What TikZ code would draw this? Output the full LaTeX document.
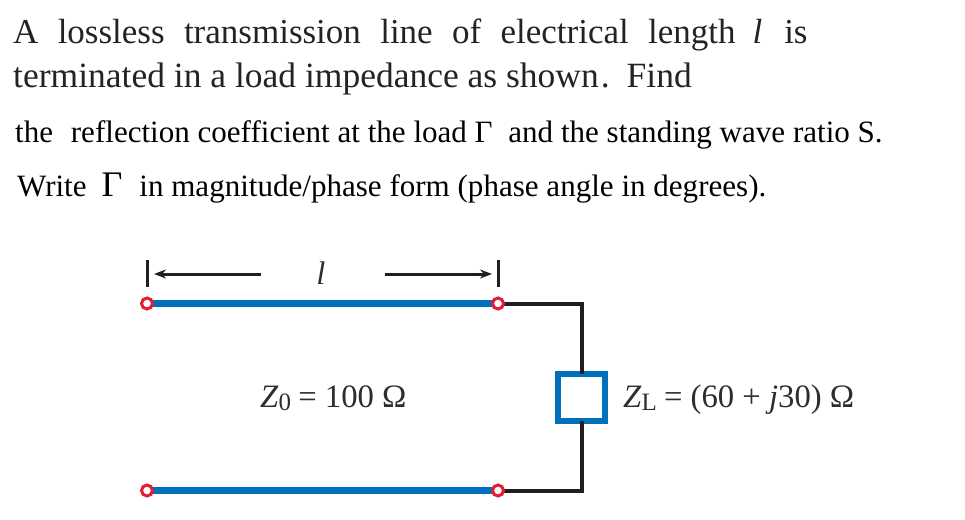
\documentclass[tikz,border=0pt]{standalone}
\usepackage{fontspec}
\setmainfont{Liberation Serif}
\usetikzlibrary{arrows.meta}
\definecolor{lineblue}{RGB}{0,112,186}
\definecolor{txt}{RGB}{35,35,35}
\definecolor{labtxt}{RGB}{45,45,45}
\definecolor{termred}{RGB}{225,30,50}
\newcommand{\subtxt}[1]{\raisebox{-3pt}{\fontsize{25}{25}\selectfont #1}}
\tikzset{
 x=1pt,y=-1pt,
 headline/.style={anchor=base west,inner sep=0,text=txt,font=\fontsize{35.5}{36}\selectfont},
 bodyline/.style={anchor=base west,inner sep=0,text=black,font=\fontsize{31.05}{32}\selectfont},
 lab/.style={anchor=base,inner sep=0,text=labtxt,font=\fontsize{32.7}{33}\selectfont},
 term/.style={circle,draw=termred,fill=white,line width=3pt,minimum size=11pt,inner sep=0},
 tline/.style={lineblue,line width=7pt},
 wire/.style={black!88,line width=4pt,line join=miter},
 dim/.style={black!88,line width=3pt},
 tick/.style={black!88,line width=3pt},
 tip/.style={-{Stealth[length=12pt,width=9pt]}}
}
\begin{document}
\begin{tikzpicture}
\useasboundingbox (0,0) rectangle (965,519);
\node[headline,font=\fontsize{35}{36}\selectfont] (t1) at (13,43.5) {A\hspace{19.3pt}lossless\hspace{19.3pt}transmission\hspace{19.3pt}line\hspace{19.3pt}of\hspace{19.3pt}electrical\hspace{19.3pt}length\hspace{17pt}\textit{l}\hspace{22pt}is};
\node[headline] (t2) at (13,87) {terminated in a load impedance as shown\hspace{2pt}.\hspace{17pt}Find};
\node[bodyline] (t3) at (15,142) {the\hspace{10pt} reflection coefficient at the load Γ\hspace{8pt} and the standing wave ratio S.};
\node[bodyline] (t4) at (17,196.5) {Write\hspace{15pt}{\fontsize{36}{36}\selectfont Γ}\hspace{17pt}in magnitude/phase form (phase angle in degrees).};
\coordinate (tl) at (147,303.5);
\coordinate (tr) at (498,303.5);
\coordinate (bl) at (147,490.5);
\coordinate (br) at (498,490.5);
\coordinate (c1) at (582,303.5);
\coordinate (c2) at (582,490.5);
\node[draw=lineblue,line width=6pt,fill=white,minimum size=47pt,inner sep=0,outer sep=0] (zl) at (581.5,397.5) {};
\draw[wire] (tr) -- (c1) -- (zl.north -| c1);
\draw[wire] (zl.south -| c2) -- (c2) -- (br);
\draw[tline] (tl) -- (tr);
\draw[tline] (bl) -- (br);
\node[term] (a) at (tl) {};
\node[term] (b) at (tr) {};
\node[term] (c) at (bl) {};
\node[term] (d) at (br) {};
\coordinate (dl) at (154,274);
\coordinate (dr) at (492,274);
\coordinate (dla) at (261,274);
\coordinate (dra) at (385,274);
\draw[tick] (147,260) -- (147,287);
\draw[tick] (498,260) -- (498,287);
\draw[dim,tip] (dla) -- (dl);
\draw[dim,tip] (dra) -- (dr);
\node[lab] (ll) at (321,284) {\textit{l}};
\node[lab,anchor=base west] (z0) at (260,407) {\textit{Z}\subtxt{0}\hspace{-1pt} = 100 Ω};
\node[lab,anchor=base west] (zll) at (623,407) {\textit{Z}\subtxt{L}\hspace{-1pt} = (60 + \textit{j}30) Ω};
\end{tikzpicture}
\end{document}
